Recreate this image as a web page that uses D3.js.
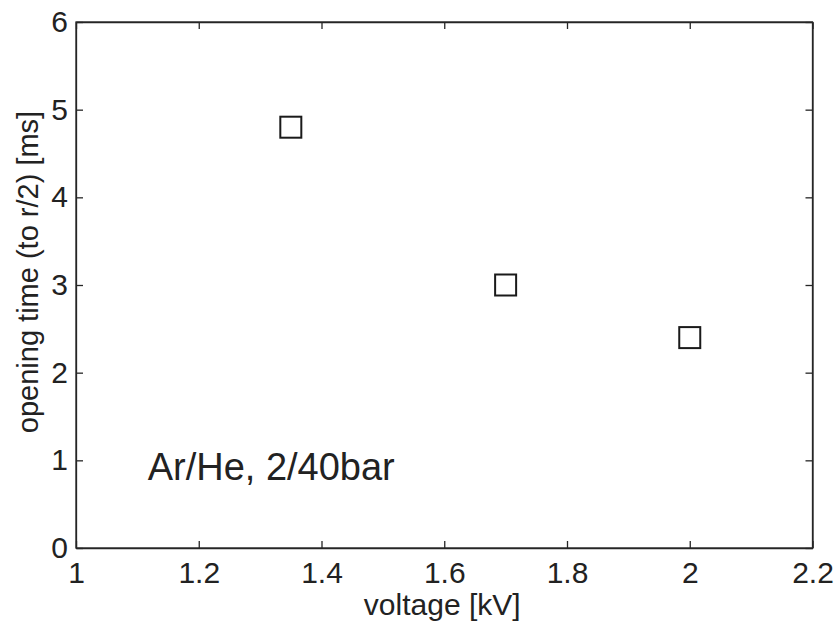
<!DOCTYPE html>
<html>
<head>
<meta charset="utf-8">
<script src="https://cdn.jsdelivr.net/npm/d3@7"></script>
<style>
body { margin: 0; background: #fff; }
text { font-family: Arial, "Liberation Sans", sans-serif; fill: #222; }
</style>
</head>
<body>
<div id="chart"></div>
<script>
// data
var voltage = [1.35, 1.7, 2.0];
var openTime = [4.8, 3.0, 2.4];
var xTicks = [1, 1.2, 1.4, 1.6, 1.8, 2, 2.2];
var yTicks = [0, 1, 2, 3, 4, 5, 6];

var margin = {top: 22, right: 26.5, bottom: 77, left: 76},
    width = 839 - margin.left - margin.right,
    height = 625 - margin.top - margin.bottom;

var svg = d3.select("#chart").append("svg")
  .attr("width", 839)
  .attr("height", 625)
  .append("g")
  .attr("transform", "translate(" + margin.left + "," + margin.top + ")");

var x = d3.scaleLinear().domain([1, 2.2]).range([0, width]);
var y = d3.scaleLinear().domain([0, 6]).range([height, 0]);

var fmt = function(d) { return d3.format("~g")(d); };

// axes with inward ticks, mirrored on top and right
var xAxis = d3.axisBottom(x).tickValues(xTicks).tickSizeInner(-7).tickSizeOuter(0).tickPadding(14).tickFormat(fmt);
var yAxis = d3.axisLeft(y).tickValues(yTicks).tickSizeInner(-7).tickSizeOuter(0).tickPadding(8).tickFormat(fmt);

svg.append("g").attr("class", "x axis")
  .attr("transform", "translate(0," + height + ")")
  .call(xAxis);
svg.append("g").attr("class", "y axis").call(yAxis);

svg.append("g")
  .call(d3.axisTop(x).tickValues(xTicks).tickSizeInner(-7).tickSizeOuter(0).tickFormat(""));
svg.append("g")
  .attr("transform", "translate(" + width + ",0)")
  .call(d3.axisRight(y).tickValues(yTicks).tickSizeInner(-7).tickSizeOuter(0).tickFormat(""));

svg.selectAll(".domain").attr("stroke", "#262626").attr("stroke-width", 1.3);
svg.selectAll(".tick line").attr("stroke", "#262626").attr("stroke-width", 1.3);
svg.selectAll(".tick text").style("font-size", "30px").attr("fill", "#222");
svg.selectAll(".x.axis .tick text").attr("dy", "0.71em");

// box
svg.append("rect")
  .attr("width", width).attr("height", height)
  .attr("fill", "none").attr("stroke", "#262626").attr("stroke-width", 1.3);

// markers
var pts = voltage.map(function(v, i) { return {v: v, t: openTime[i]}; });
var s = 21;
svg.selectAll(".pt")
  .data(pts)
  .enter().append("rect")
  .attr("class", "pt")
  .attr("x", function(d) { return x(d.v) - s / 2; })
  .attr("y", function(d) { return y(d.t) - s / 2; })
  .attr("width", s).attr("height", s)
  .attr("fill", "none")
  .attr("stroke", "#1a1a1a")
  .attr("stroke-width", 2);

// labels
svg.append("text")
  .attr("x", width / 2 - 2)
  .attr("y", height + 67)
  .attr("text-anchor", "middle")
  .style("font-size", "30px")
  .text("voltage [kV]");

svg.append("text")
  .attr("transform", "translate(" + (38 - margin.left) + "," + (272 - margin.top) + ") rotate(-90)")
  .attr("text-anchor", "middle")
  .style("font-size", "29px")
  .text("opening time (to r/2) [ms]");

svg.append("text")
  .attr("x", x(1.12) - 2)
  .attr("y", y(0.77))
  .style("font-size", "38px")
  .text("Ar/He, 2/40bar");
</script>
</body>
</html>
